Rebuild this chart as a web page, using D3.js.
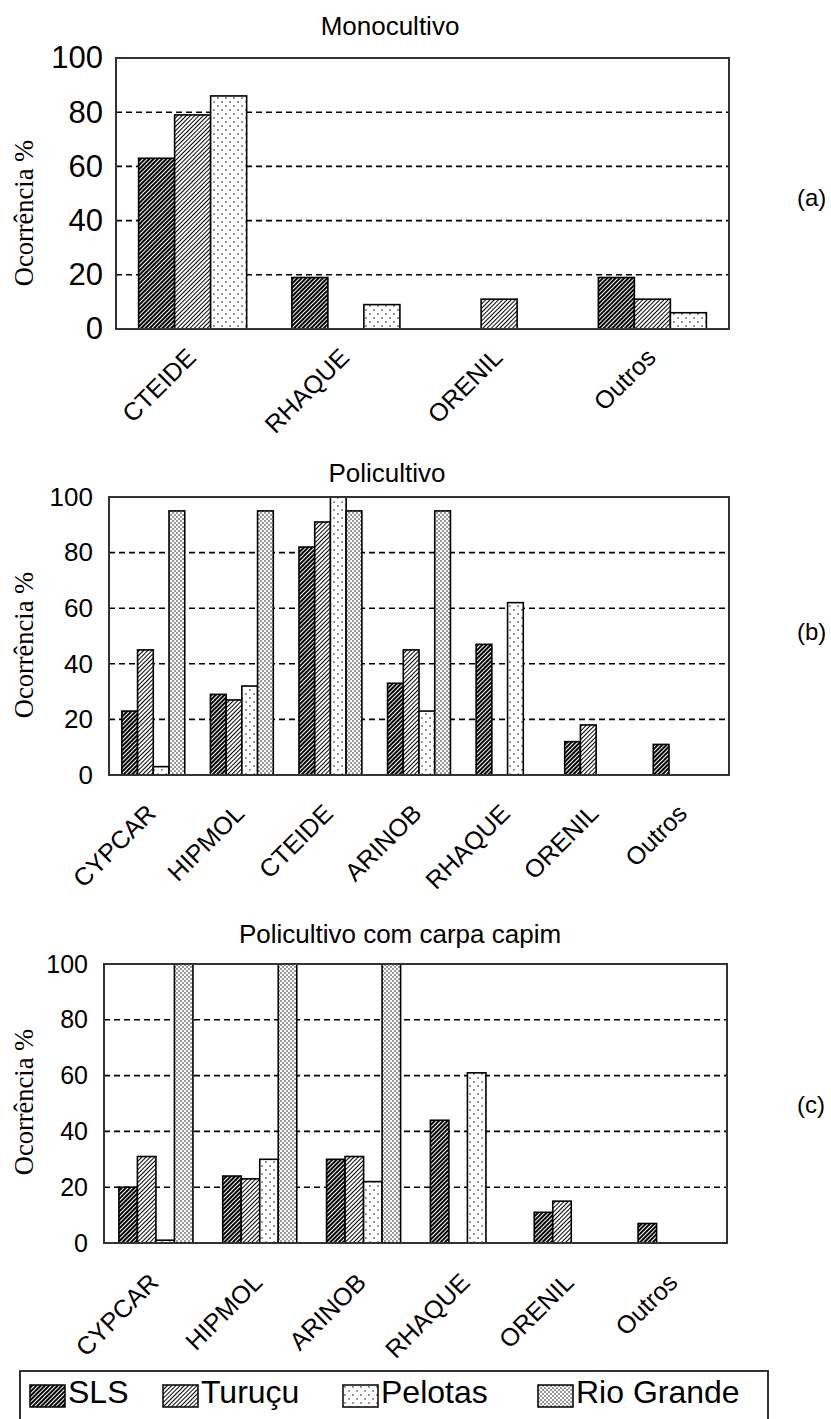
<!DOCTYPE html>
<html>
<head>
<meta charset="utf-8">
<script src="https://cdn.jsdelivr.net/npm/d3@7"></script>
<style>
  body { margin: 0; background: #fff; }
  svg { display: block; }
  .sans { font-family: "Liberation Sans", Arial, Helvetica, Roboto, sans-serif; }
  .serif { font-family: "Liberation Serif", Tinos, "Times New Roman", Times, "DejaVu Serif", serif; }
</style>
</head>
<body>
<div id="chart"></div>
<script>
// ---- data ----
const seriesNames = ["SLS", "Turuçu", "Pelotas", "Rio Grande"];
const yTicks = [0, 20, 40, 60, 80, 100];

// (a) Monocultivo
const monoCategories = ["CTEIDE", "RHAQUE", "ORENIL", "Outros"];
const monoSLS = [63, 19, 0, 19];
const monoTurucu = [79, 0, 11, 11];
const monoPelotas = [86, 9, 0, 6];

// (b) Policultivo
const poliCategories = ["CYPCAR", "HIPMOL", "CTEIDE", "ARINOB", "RHAQUE", "ORENIL", "Outros"];
const poliSLS = [23, 29, 82, 33, 47, 12, 11];
const poliTurucu = [45, 27, 91, 45, 0, 18, 0];
const poliPelotas = [3, 32, 100, 23, 62, 0, 0];
const poliRioGrande = [95, 95, 95, 95, 0, 0, 0];

// (c) Policultivo com carpa capim
const capimCategories = ["CYPCAR", "HIPMOL", "ARINOB", "RHAQUE", "ORENIL", "Outros"];
const capimSLS = [20, 24, 30, 44, 11, 7];
const capimTurucu = [31, 23, 31, 0, 15, 0];
const capimPelotas = [1, 30, 22, 61, 0, 0];
const capimRioGrande = [100, 100, 100, 0, 0, 0];

const W = 831, H = 1419;

const svg = d3.select("#chart")
    .append("svg")
    .attr("width", W)
    .attr("height", H);

svg.append("rect").attr("width", W).attr("height", H).attr("fill", "#fff");

// fill patterns, one per series
const defs = svg.append("defs");
const patternIds = ["p-sls", "p-turucu", "p-pelotas", "p-rio"];

function stripePattern(id, bg, fg, w) {
    const p = defs.append("pattern")
        .attr("id", id)
        .attr("patternUnits", "userSpaceOnUse")
        .attr("width", 3).attr("height", 3)
        .attr("patternTransform", "rotate(-45)");
    p.append("rect").attr("width", 3).attr("height", 3).attr("fill", bg);
    p.append("rect").attr("width", 3).attr("height", w).attr("fill", fg);
}
function dotPattern(id, size, dots, r) {
    const p = defs.append("pattern")
        .attr("id", id)
        .attr("patternUnits", "userSpaceOnUse")
        .attr("width", size).attr("height", size);
    p.append("rect").attr("width", size).attr("height", size).attr("fill", "#fff");
    dots.forEach(d => p.append("circle").attr("cx", d[0]).attr("cy", d[1]).attr("r", r).attr("fill", "#000"));
}
stripePattern(patternIds[0], "#000", "#fff", 1);
stripePattern(patternIds[1], "#fff", "#000", 1);
dotPattern(patternIds[2], 8, [[2, 2], [6, 6]], 0.75);
dotPattern(patternIds[3], 4, [[1, 1], [3, 3]], 0.75);

function drawPanel(opt) {
    const g = svg.append("g");

    const x0 = d3.scaleBand()
        .domain(opt.categories)
        .range([opt.left, opt.right])
        .paddingInner(opt.pad)
        .paddingOuter(opt.pad / 2);
    const x1 = d3.scaleBand()
        .domain(opt.series.map(s => s.name))
        .range([0, x0.bandwidth()]);
    const y = d3.scaleLinear()
        .domain([0, 100])
        .range([opt.bottom, opt.top]);

    // dashed gridlines
    g.append("g").selectAll("line")
        .data(yTicks.filter(t => t > 0 && t < 100))
        .join("line")
        .attr("x1", opt.left).attr("x2", opt.right)
        .attr("y1", d => y(d)).attr("y2", d => y(d))
        .attr("stroke", "#000")
        .attr("stroke-width", 1.6)
        .attr("stroke-dasharray", "6,4");

    // bars
    const rows = opt.categories.flatMap((c, i) =>
        opt.series.map(s => ({cat: c, name: s.name, value: s.values[i], pat: s.pat})));
    g.append("g").selectAll("rect")
        .data(rows.filter(d => d.value > 0))
        .join("rect")
        .attr("x", d => x0(d.cat) + x1(d.name))
        .attr("y", d => y(d.value))
        .attr("width", x1.bandwidth())
        .attr("height", d => y(0) - y(d.value))
        .attr("fill", d => `url(#${d.pat})`)
        .attr("stroke", "#000")
        .attr("stroke-width", 1.6);

    // plot frame
    g.append("rect")
        .attr("x", opt.left).attr("y", opt.top)
        .attr("width", opt.right - opt.left)
        .attr("height", opt.bottom - opt.top)
        .attr("fill", "none")
        .attr("stroke", "#333")
        .attr("stroke-width", 2);

    // y axis
    const ya = g.append("g")
        .attr("transform", `translate(${opt.left},0)`)
        .call(d3.axisLeft(y).tickValues(yTicks).tickSize(0).tickPadding(opt.tickPad));
    ya.select(".domain").remove();
    ya.attr("font-size", opt.tickFont).attr("font-family", null).attr("class", "sans");
    ya.selectAll("text").attr("fill", "#000");

    // x axis, rotated labels
    const xa = g.append("g")
        .attr("transform", `translate(0,${opt.bottom})`)
        .call(d3.axisBottom(x0).tickSize(0));
    xa.select(".domain").remove();
    xa.attr("font-size", opt.labFont).attr("font-family", null).attr("class", "sans");
    xa.selectAll("text")
        .attr("fill", "#000")
        .attr("y", 0).attr("dy", 0)
        .attr("text-anchor", "end")
        .attr("transform", `translate(${opt.labDx},${opt.labDy}) rotate(-45)`);

    // title
    svg.append("text")
        .attr("class", "sans")
        .text(opt.title)
        .attr("x", opt.titleX).attr("y", opt.titleY)
        .attr("text-anchor", "middle")
        .attr("font-size", "26px")
        .attr("fill", "#000");

    // y axis label
    svg.append("text")
        .attr("class", "serif")
        .text("Ocorrência %")
        .attr("transform", `translate(33,${opt.yLabelY}) rotate(-90)`)
        .attr("text-anchor", "middle")
        .attr("font-size", "26.5px")
        .attr("fill", "#000");

    // panel tag
    svg.append("text")
        .attr("class", "sans")
        .text(opt.tag)
        .attr("x", 797).attr("y", opt.tagY)
        .attr("font-size", "24px")
        .attr("fill", "#000");
}

drawPanel({
    categories: monoCategories,
    series: [
        {name: seriesNames[0], values: monoSLS, pat: patternIds[0]},
        {name: seriesNames[1], values: monoTurucu, pat: patternIds[1]},
        {name: seriesNames[2], values: monoPelotas, pat: patternIds[2]}
    ],
    left: 116, right: 729, top: 58, bottom: 329, pad: 0.295,
    tickFont: 31, tickPad: 13, labFont: 25, labDx: 5, labDy: 30,
    title: "Monocultivo", titleX: 390, titleY: 35,
    yLabelY: 213, tag: "(a)", tagY: 206
});

drawPanel({
    categories: poliCategories,
    series: [
        {name: seriesNames[0], values: poliSLS, pat: patternIds[0]},
        {name: seriesNames[1], values: poliTurucu, pat: patternIds[1]},
        {name: seriesNames[2], values: poliPelotas, pat: patternIds[2]},
        {name: seriesNames[3], values: poliRioGrande, pat: patternIds[3]}
    ],
    left: 109, right: 729, top: 497, bottom: 775, pad: 0.29,
    tickFont: 26, tickPad: 16, labFont: 25, labDx: 4, labDy: 40,
    title: "Policultivo", titleX: 387, titleY: 482,
    yLabelY: 645, tag: "(b)", tagY: 640
});

drawPanel({
    categories: capimCategories,
    series: [
        {name: seriesNames[0], values: capimSLS, pat: patternIds[0]},
        {name: seriesNames[1], values: capimTurucu, pat: patternIds[1]},
        {name: seriesNames[2], values: capimPelotas, pat: patternIds[2]},
        {name: seriesNames[3], values: capimRioGrande, pat: patternIds[3]}
    ],
    left: 104, right: 727, top: 964, bottom: 1243, pad: 0.287,
    tickFont: 25, tickPad: 16, labFont: 25, labDx: 4, labDy: 41,
    title: "Policultivo com carpa capim", titleX: 400, titleY: 943,
    yLabelY: 1102, tag: "(c)", tagY: 1113
});

// legend (box runs past the bottom edge as in the original)
const legendX = [30, 163, 343, 538];
const legend = svg.append("g").attr("id", "legend");
legend.append("rect")
    .attr("x", 20).attr("y", 1371)
    .attr("width", 748).attr("height", 70)
    .attr("fill", "#fff")
    .attr("stroke", "#333")
    .attr("stroke-width", 2);
const items = legend.selectAll("g.item")
    .data(seriesNames)
    .join("g")
    .attr("class", "item")
    .attr("transform", (d, i) => `translate(${legendX[i]},1385)`);
items.append("rect")
    .attr("width", 35).attr("height", 22)
    .attr("fill", (d, i) => `url(#${patternIds[i]})`)
    .attr("stroke", "#000")
    .attr("stroke-width", 1.5);
items.append("text")
    .attr("class", "sans")
    .text(d => d)
    .attr("x", 38).attr("y", 18)
    .attr("font-size", "32px")
    .attr("fill", "#000");
</script>
</body>
</html>
